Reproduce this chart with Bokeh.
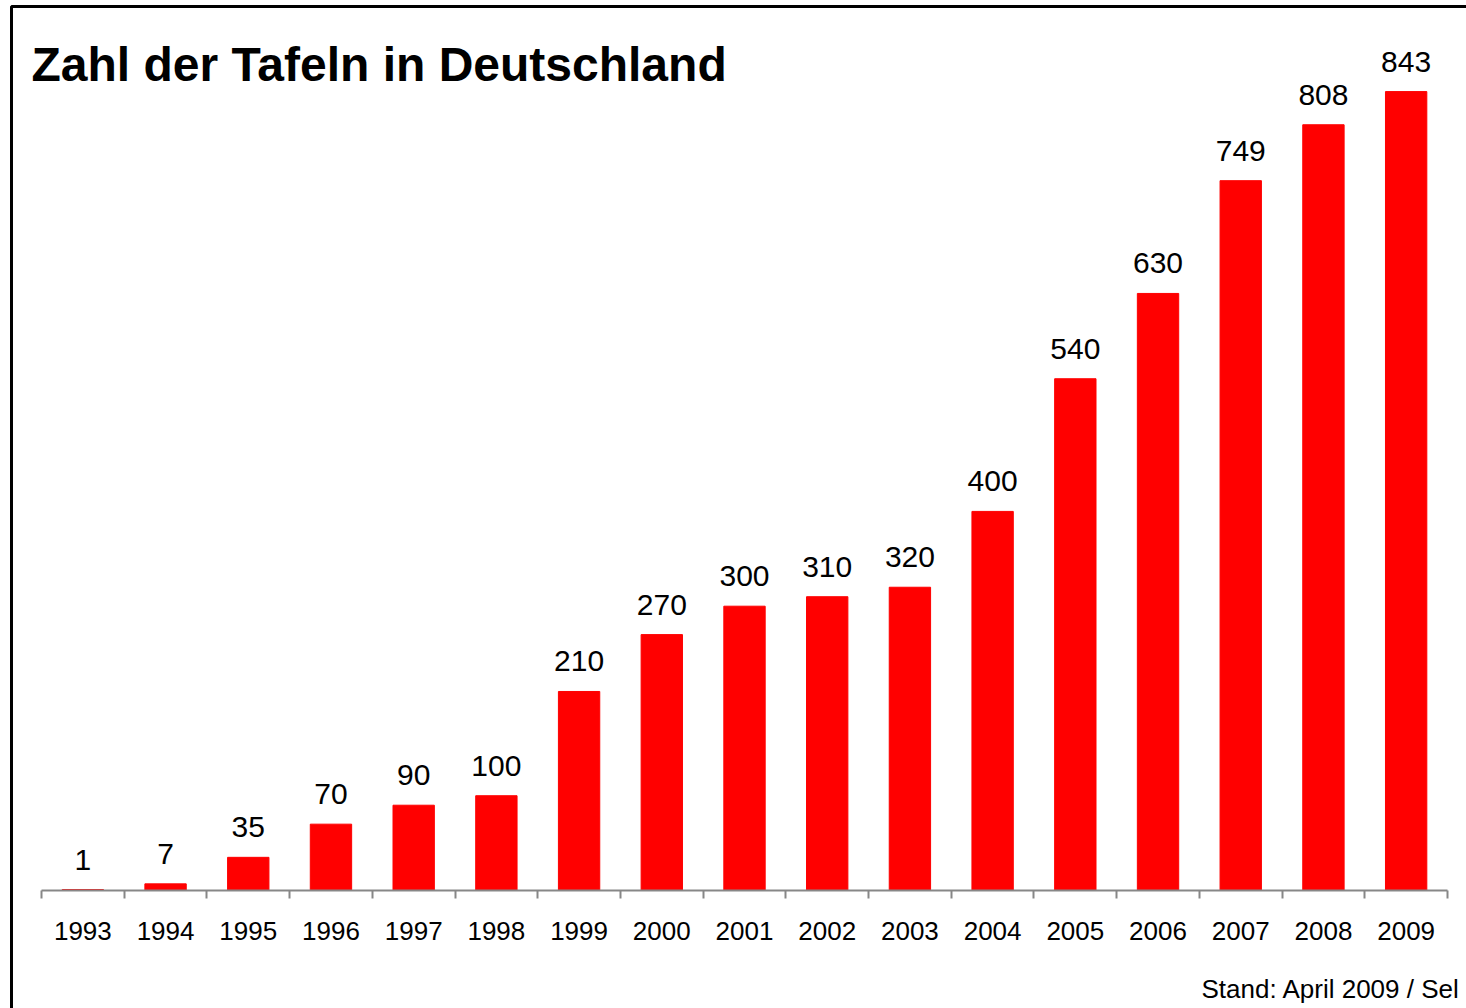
from bokeh.plotting import figure
from bokeh.models import Range1d, FixedTicker, Label, BoxAnnotation, ColumnDataSource
from bokeh.core.properties import value
from bokeh.embed import file_html
from bokeh.resources import INLINE

# ---- data ----
years = ["1993", "1994", "1995", "1996", "1997", "1998", "1999", "2000", "2001",
         "2002", "2003", "2004", "2005", "2006", "2007", "2008", "2009"]
counts = [1, 7, 35, 70, 90, 100, 210, 270, 300, 310, 320, 400, 540, 630, 749, 808, 843]
title_text = "Zahl der Tafeln in Deutschland"
footer_text = "Stand: April 2009 / Sel"

W, H = 1466, 1008
n = len(years)
pos = [i + 0.5 for i in range(n)]
source = ColumnDataSource(dict(x=pos, top=counts, label=[str(c) for c in counts]))

# pixel geometry of the plotting area
ax_left, ax_right, ax_y = 41, 1447, 890
px_per_cat = (ax_right - ax_left) / n
px_per_unit = 0.9477

p = figure(width=W, height=H, output_backend="svg", toolbar_location=None,
           x_range=Range1d(-ax_left / px_per_cat, n + (W - ax_right) / px_per_cat),
           y_range=Range1d(-(H - ax_y) / px_per_unit, ax_y / px_per_unit),
           y_axis_location=None, min_border=0)
p.title.visible = False
p.outline_line_color = None
p.xgrid.visible = False
p.ygrid.visible = False
p.background_fill_color = "white"
p.border_fill_color = "white"

p.vbar(x="x", top="top", width=0.5, source=source, color="#FF0000")
p.text(x="x", y="top", text="label", source=source, text_align="center",
       text_baseline="alphabetic", y_offset=-30, text_font=value("Liberation Sans"),
       text_font_size="30px", text_color="black")

ax = p.xaxis[0]
ax.fixed_location = 0
ax.bounds = (0, n)
ax.ticker = FixedTicker(ticks=pos, minor_ticks=list(range(n + 1)))
ax.major_label_overrides = {x: y for x, y in zip(pos, years)}
ax.major_tick_line_color = None
ax.major_tick_in = 0
ax.major_tick_out = 0
ax.minor_tick_line_color = "#878787"
ax.minor_tick_line_width = 2
ax.minor_tick_in = 0
ax.minor_tick_out = 8
ax.axis_line_color = "#878787"
ax.axis_line_width = 2
ax.major_label_text_font = "Liberation Sans"
ax.major_label_text_font_size = "26px"
ax.major_label_text_color = "black"
ax.major_label_standoff = 23

p.add_layout(Label(x=31, y=H - 64, x_units="screen", y_units="screen", text=title_text,
                   text_font="Liberation Sans", text_font_size="48px",
                   text_font_style="bold", text_color="black",
                   text_baseline="alphabetic"))
p.add_layout(Label(x=1201, y=H - 988, x_units="screen", y_units="screen", text=footer_text,
                   text_font="Liberation Sans", text_font_size="26px",
                   text_color="black", text_baseline="alphabetic"))
p.add_layout(BoxAnnotation(left=11, right=3000, top=H - 6, bottom=-500,
                           left_units="screen", right_units="screen",
                           top_units="screen", bottom_units="screen",
                           fill_alpha=0, line_color="black", line_alpha=1.0,
                           line_width=3))

open("out.html", "w").write(file_html(p, INLINE))
